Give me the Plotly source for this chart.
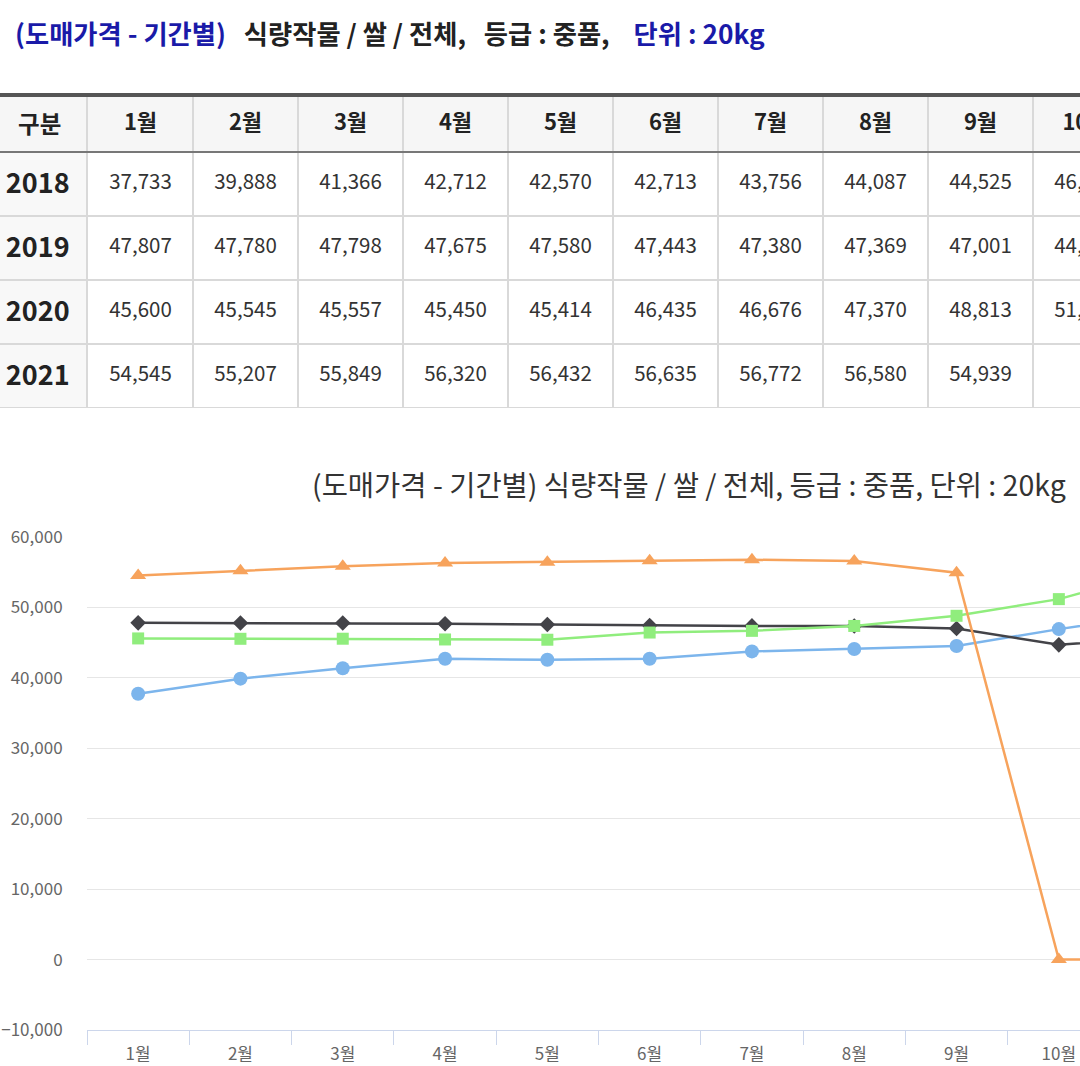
import plotly.graph_objects as go

FONT = "Noto Sans CJK KR"
W, H = 1080, 1066

months = ["1월", "2월", "3월", "4월", "5월", "6월", "7월", "8월", "9월", "10월", "11월", "12월"]
years = ["2018", "2019", "2020", "2021"]
s2018 = [37733, 39888, 41366, 42712, 42570, 42713, 43756, 44087, 44525, 46920, 49000, None]
s2019 = [47807, 47780, 47798, 47675, 47580, 47443, 47380, 47369, 47001, 44690, 45800, None]
s2020 = [45600, 45545, 45557, 45450, 45414, 46435, 46676, 47370, 48813, 51180, 55200, None]
s2021 = [54545, 55207, 55849, 56320, 56432, 56635, 56772, 56580, 54939, 0, 0, None]
y_ticks = [-10000, 0, 10000, 20000, 30000, 40000, 50000, 60000]
header_label = "구분"

series = [
    ("2018", s2018, "#7cb5ec", "circle", 14),
    ("2019", s2019, "#434348", "diamond", 12),
    ("2020", s2020, "#90ed7d", "square", 12),
    ("2021", s2021, "#f7a35c", "triangle-up", 14),
]

# layout geometry (pixels)
FIRST_COL = 88
COL_W = 105
LINE_C = "#d9d9d9"


def px_x(p):
    return p / W


def px_y(p):
    return 1 - p / H


fig = go.Figure()

# ---------- table (built on category axes) ----------
fig.add_trace(go.Scatter(
    x=months, y=[header_label] * len(months), text=months, mode="text",
    textfont=dict(family=FONT, size=22, color="#222222", weight="bold"),
    xaxis="x2", yaxis="y2", hoverinfo="skip", showlegend=False,
))
for name, vals, _, _, _ in series:
    fig.add_trace(go.Scatter(
        x=months, y=[name] * len(months), mode="text",
        text=["" if not v else f"{v:,}" for v in vals],
        textfont=dict(family=FONT, size=20.5, color="#333333"),
        xaxis="x3", yaxis="y3", hoverinfo="skip", showlegend=False,
    ))

# ---------- chart ----------
for name, vals, color, sym, size in series:
    fig.add_trace(go.Scatter(
        x=months, y=vals, name=name, mode="lines+markers",
        line=dict(color=color, width=2.5),
        marker=dict(symbol=sym, size=size, color=color, line=dict(width=0)),
        showlegend=False, xaxis="x", yaxis="y",
    ))

table_x = dict(
    domain=[px_x(FIRST_COL), 1], type="category",
    categoryorder="array", categoryarray=months,
    range=[-0.5, -0.5 + (W - FIRST_COL) / COL_W],
    tickson="boundaries", showgrid=True, gridcolor=LINE_C, gridwidth=2,
    showticklabels=False, ticks="", zeroline=False, showline=False,
    automargin=False, fixedrange=True,
)

shapes = [
    # header background
    dict(type="rect", xref="paper", yref="y2 domain", x0=0, x1=1, y0=0, y1=1,
         fillcolor="#f6f6f6", line=dict(width=0), layer="below"),
    # first column background
    dict(type="rect", xref="paper", yref="y3", x0=0, x1=px_x(FIRST_COL), y0=-0.5, y1=3.5,
         fillcolor="#f8f8f8", line=dict(width=0), layer="below"),
    # thick top border
    dict(type="line", xref="paper", yref="paper", x0=0, x1=1,
         y0=px_y(95), y1=px_y(95), line=dict(color="#555555", width=4)),
    # header bottom border
    dict(type="line", xref="paper", yref="y2 domain", x0=0, x1=1,
         y0=0, y1=0, line=dict(color="#777777", width=2)),
]
for b in [0.5, 1.5, 2.5, 3.5]:
    shapes.append(dict(type="line", xref="paper", yref="y3", x0=0, x1=1,
                       y0=b, y1=b, line=dict(color=LINE_C, width=2)))

fig.update_layout(
    width=W, height=H,
    margin=dict(l=0, r=0, t=0, b=0),
    paper_bgcolor="white", plot_bgcolor="rgba(0,0,0,0)",
    font=dict(family=FONT, color="#333333"),
    showlegend=False,
    xaxis=dict(
        domain=[px_x(87), 1], type="category", anchor="y",
        categoryorder="array", categoryarray=months,
        range=[-0.5, -0.5 + (W - 87) / 102.3],
        tickson="boundaries", ticks="outside", ticklen=14,
        tickcolor="#ccd6eb", tickwidth=1, ticklabelstandoff=9,
        showline=True, linecolor="#ccd6eb", linewidth=1,
        showgrid=False, zeroline=False,
        tickfont=dict(family=FONT, size=17, color="#666666"),
        automargin=False, fixedrange=True,
    ),
    yaxis=dict(
        domain=[px_y(1030), px_y(537)], anchor="x",
        range=[-10000, 60000], tickmode="array", tickvals=y_ticks,
        tickformat=",", gridcolor="#e6e6e6", gridwidth=1,
        zeroline=False, showline=False,
        ticks="outside", ticklen=0, ticklabelstandoff=20,
        tickfont=dict(family=FONT, size=17, color="#666666"),
        automargin=False, fixedrange=True,
    ),
    xaxis2=dict(table_x, anchor="y2"),
    yaxis2=dict(
        domain=[px_y(152), px_y(97)], anchor="x2", type="category",
        categoryorder="array", categoryarray=[header_label], range=[-0.5, 0.5],
        showgrid=False, zeroline=False, showline=True,
        linecolor=LINE_C, linewidth=2, ticks="", ticklabelstandoff=20,
        tickfont=dict(family=FONT, size=23.5, color="#222222", weight="bold"),
        automargin=False, fixedrange=True,
    ),
    xaxis3=dict(table_x, anchor="y3"),
    yaxis3=dict(
        domain=[px_y(408), px_y(152)], anchor="x3", type="category",
        categoryorder="array", categoryarray=years, range=[3.5, -0.5],
        showgrid=False, zeroline=False, showline=True,
        linecolor=LINE_C, linewidth=2, ticks="", ticklabelstandoff=11,
        tickfont=dict(family=FONT, size=27, color="#222222", weight="bold"),
        automargin=False, fixedrange=True,
    ),
    shapes=shapes,
    annotations=[
        dict(
            xref="paper", yref="paper", x=px_x(13), y=px_y(33),
            xanchor="left", yanchor="middle", showarrow=False,
            text=("<b><span style='color:#1a1aa8'>(도매가격 - 기간별)</span>"
                  "\u00a0\u00a0\u00a0식량작물 / 쌀 / 전체,\u00a0\u00a0\u00a0등급 : 중품,\u00a0\u00a0\u00a0\u00a0"
                  "<span style='color:#1a1aa8'>단위 : 20kg</span></b>"),
            font=dict(family=FONT, size=26.3, color="#222222"),
        ),
        dict(
            xref="paper", yref="paper", x=px_x(1068), y=px_y(483),
            xanchor="right", yanchor="middle", showarrow=False,
            text="(도매가격 - 기간별) 식량작물 / 쌀 / 전체, 등급 : 중품, 단위 : 20kg",
            font=dict(family=FONT, size=28.5, color="#333333"),
        ),
    ],
)

fig.write_html(
    "out.html",
    config={"displayModeBar": False},
    post_script="document.body.style.margin='0px';document.body.style.overflow='hidden';",
)
